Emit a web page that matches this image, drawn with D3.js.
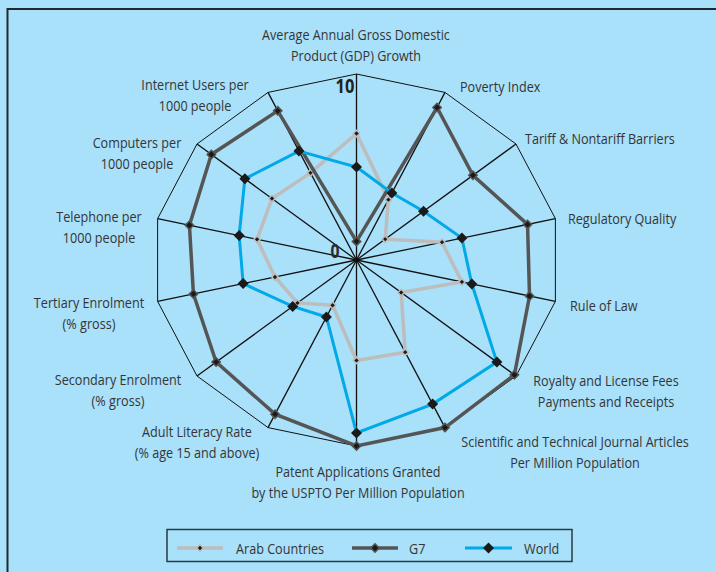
<!DOCTYPE html>
<html>
<head>
<meta charset="utf-8">
<script src="https://cdn.jsdelivr.net/npm/d3@7"></script>
<style>
  html, body { margin: 0; padding: 0; background: #a9e0fa; }
  svg { display: block; }
</style>
</head>
<body>
<script>
// Axes, clockwise from the top
const axes = [
  ["Average Annual Gross Domestic", "Product (GDP) Growth"],
  ["Poverty Index"],
  ["Tariff & Nontariff Barriers"],
  ["Regulatory Quality"],
  ["Rule of Law"],
  ["Royalty and License Fees", "Payments and Receipts"],
  ["Scientific and Technical Journal Articles", "Per Million Population"],
  ["Patent Applications Granted", "by the USPTO Per Million Population"],
  ["Adult Literacy Rate", "(% age 15 and above)"],
  ["Secondary Enrolment", "(% gross)"],
  ["Tertiary Enrolment", "(% gross)"],
  ["Telephone per", "1000 people"],
  ["Computers per", "1000 people"],
  ["Internet Users per", "1000 people"]
];

const arab  = [6.8, 3.6, 1.8, 4.3, 5.3, 2.8, 5.5, 5.4, 2.7, 3.7, 4.1, 5.0, 5.3, 5.2];
const g7    = [1.0, 9.1, 7.3, 8.6, 8.7, 9.9, 10, 10, 9.2, 8.8, 8.2, 8.4, 9.1, 8.9];
const world = [5.0, 4.0, 4.2, 5.3, 5.8, 8.8, 8.6, 9.3, 3.4, 4.0, 5.7, 5.9, 7.0, 6.5];

const seriesNames = ["Arab Countries", "G7", "World"];

const width = 716, height = 572;
const cx = 356.5, cy = 260;
const rx = 204, ry = 186;
const font = "'Open Sans', sans-serif";
const textColor = "#353535";
const fontSize = 15.3;
const squeeze = 0.825; // condensed look

const svg = d3.select("body").append("svg")
  .attr("width", width)
  .attr("height", height)
  .attr("font-family", font);

svg.append("rect")
  .attr("width", width).attr("height", height)
  .attr("fill", "#a9e0fa");

// outer frame (runs off right / bottom)
svg.append("rect")
  .attr("x", 7.5).attr("y", 9)
  .attr("width", 800).attr("height", 700)
  .attr("fill", "none")
  .attr("stroke", "#1e2a30")
  .attr("stroke-width", 2);

const r = d3.scaleLinear().domain([0, 10]).range([0, 1]);
const angle = d3.scaleLinear().domain([0, axes.length]).range([0, 2 * Math.PI]);

const px = (i, v) => cx + r(v) * rx * Math.sin(angle(i));
const py = (i, v) => cy - r(v) * ry * Math.cos(angle(i));

// spokes
svg.append("g")
  .selectAll("line")
  .data(axes)
  .join("line")
  .attr("x1", cx).attr("y1", cy)
  .attr("x2", (d, i) => px(i, 10))
  .attr("y2", (d, i) => py(i, 10))
  .attr("stroke", "#111")
  .attr("stroke-width", 1.3);

// outer polygon
svg.append("path")
  .attr("d", d3.line().x((d, i) => px(i, 10)).y((d, i) => py(i, 10)).curve(d3.curveLinearClosed)(axes))
  .attr("fill", "none")
  .attr("stroke", "#111")
  .attr("stroke-width", 1);

// scale labels
svg.append("text")
  .attr("transform", `translate(345,93) scale(${squeeze},1)`)
  .attr("text-anchor", "middle")
  .attr("font-weight", "bold")
  .attr("font-size", 20)
  .attr("fill", "#222")
  .text("10");

svg.append("text")
  .attr("transform", `translate(335,258) scale(${squeeze},1)`)
  .attr("text-anchor", "middle")
  .attr("font-weight", "bold")
  .attr("font-size", 19)
  .attr("fill", "#2a2a2a")
  .text("0");

// axis label positions: [x, y of first line, anchor]
const labelPos = [
  [356, 39.5, "middle"],
  [460, 91.5, "start"],
  [525, 143.5, "start"],
  [568, 223.5, "start"],
  [570, 310.5, "start"],
  [606, 385.5, "middle"],
  [575, 446.5, "middle"],
  [358, 476.5, "middle"],
  [197, 436.5, "middle"],
  [118, 384.5, "middle"],
  [89, 307.5, "middle"],
  [99, 221.5, "middle"],
  [137, 147.5, "middle"],
  [195, 89.5, "middle"]
];

const labels = svg.append("g")
  .attr("font-size", fontSize)
  .attr("fill", textColor);

axes.forEach((lines, i) => {
  const [x, y, anchor] = labelPos[i];
  const t = labels.append("text")
    .attr("transform", `translate(${x},${y}) scale(${squeeze},1)`)
    .attr("text-anchor", anchor);
  lines.forEach((s, j) => {
    t.append("tspan")
      .attr("x", 0)
      .attr("dy", j === 0 ? 0 : 21.5)
      .text(s);
  });
});

const styles = [
  { color: "#bdbdbd", width: 3.5, m: 3.2, mstroke: "#bdbdbd", mw: 1.5 },
  { color: "#555555", width: 3.5, m: 4.2, mstroke: "#555555", mw: 1.5 },
  { color: "#00a9e8", width: 3, m: 5.5, mstroke: "none", mw: 0 }
];

const diamond = s => `M0,${-s}L${s},0L0,${s}L${-s},0Z`;

[arab, g7, world].forEach((vals, k) => {
  const st = styles[k];
  const g = svg.append("g");
  g.append("path")
    .attr("d", d3.line().x((d, i) => px(i, d)).y((d, i) => py(i, d)).curve(d3.curveLinearClosed)(vals))
    .attr("fill", "none")
    .attr("stroke", st.color)
    .attr("stroke-width", st.width)
    .attr("stroke-linejoin", "miter");
  g.selectAll("path.m")
    .data(vals)
    .join("path")
    .attr("class", "m")
    .attr("transform", (d, i) => `translate(${px(i, d)},${py(i, d)})`)
    .attr("d", diamond(st.m))
    .attr("fill", "#1a1a1a")
    .attr("stroke", st.mstroke)
    .attr("stroke-width", st.mw);
});

// legend
const legend = svg.append("g");
legend.append("rect")
  .attr("x", 167).attr("y", 529.5)
  .attr("width", 405).attr("height", 32)
  .attr("fill", "none")
  .attr("stroke", "#2a3a40")
  .attr("stroke-width", 1.5);

const legendX = [[177, 223, 236], [352, 398, 409], [465, 512, 524]];
seriesNames.forEach((name, k) => {
  const st = styles[k];
  const [x1, x2, tx] = legendX[k];
  const ly = 548;
  legend.append("line")
    .attr("x1", x1).attr("x2", x2)
    .attr("y1", ly).attr("y2", ly)
    .attr("stroke", st.color)
    .attr("stroke-width", st.width);
  legend.append("path")
    .attr("transform", `translate(${(x1 + x2) / 2},${ly})`)
    .attr("d", diamond(st.m))
    .attr("fill", "#1a1a1a")
    .attr("stroke", st.mstroke)
    .attr("stroke-width", st.mw);
  legend.append("text")
    .attr("transform", `translate(${tx},${ly + 5.5}) scale(${squeeze},1)`)
    .attr("font-size", fontSize)
    .attr("fill", textColor)
    .text(name);
});
</script>
</body>
</html>
